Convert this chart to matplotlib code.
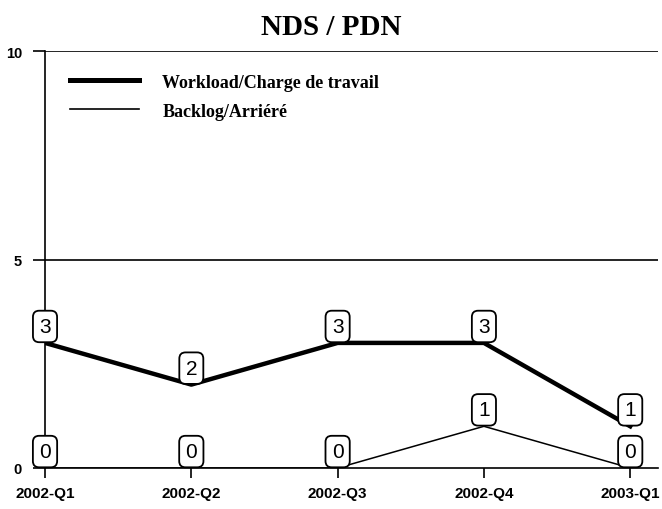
import matplotlib.pyplot as plt
from matplotlib.lines import Line2D

quarters = ["2002-Q1", "2002-Q2", "2002-Q3", "2002-Q4", "2003-Q1"]
workload = [3, 2, 3, 3, 1]
backlog = [0, 0, 0, 1, 0]
y_ticks = [0, 5, 10]

plt.rcParams["font.family"] = ["Liberation Sans", "DejaVu Sans"]

fig = plt.figure(figsize=(6.62, 5.1), dpi=100)
ax = fig.add_axes([0.068, 0.0804, 0.926, 0.8176])

x = list(range(len(quarters)))
ax.plot(x, workload, color="black", lw=3.2, zorder=3)
ax.plot(x, backlog, color="black", lw=1.1, zorder=3)

# value boxes sit just above each point
box = dict(boxstyle="round,pad=0.3,rounding_size=0.3", fc="white", ec="black", lw=1.3)
for xi, w, b in zip(x, workload, backlog):
    for v in (w, b):
        ax.annotate(str(v), (xi, v), xytext=(0, 5), textcoords="offset points",
                    ha="center", va="bottom", fontsize=15, bbox=box, zorder=5)

ax.set_xlim(0, 4.19)
ax.set_ylim(0, 10)
ax.set_xticks(x)
ax.set_xticklabels(quarters, fontsize=11, fontweight="bold")
ax.set_yticks(y_ticks)
ax.set_yticklabels([str(t) for t in y_ticks], fontsize=10.5, fontweight="bold")
ax.tick_params(axis="x", direction="out", length=7, width=1.2, pad=6)
ax.tick_params(axis="y", direction="out", length=8.5, width=1.2, pad=8)
for t in y_ticks[1:]:
    ax.axhline(t, color="black", lw=1.2, zorder=1)
ax.spines["top"].set_visible(False)
ax.spines["right"].set_visible(False)
for s in ("left", "bottom"):
    ax.spines[s].set_linewidth(1.2)

handles = [Line2D([], [], color="black", lw=3.6), Line2D([], [], color="black", lw=1.2)]
ax.legend(handles, ["Workload/Charge de travail", "Backlog/Arriéré"],
          loc="upper left", bbox_to_anchor=(0.041, 0.946), frameon=False,
          borderpad=0, borderaxespad=0,
          handlelength=3.8, handletextpad=1.3, labelspacing=0.68,
          prop={"family": "Liberation Serif", "weight": "bold", "size": 13})

fig.text(0.5, 0.947, "NDS / PDN", ha="center", va="center", fontsize=21,
         fontweight="bold", family="Liberation Serif")

fig.savefig("out.png", dpi=100)
